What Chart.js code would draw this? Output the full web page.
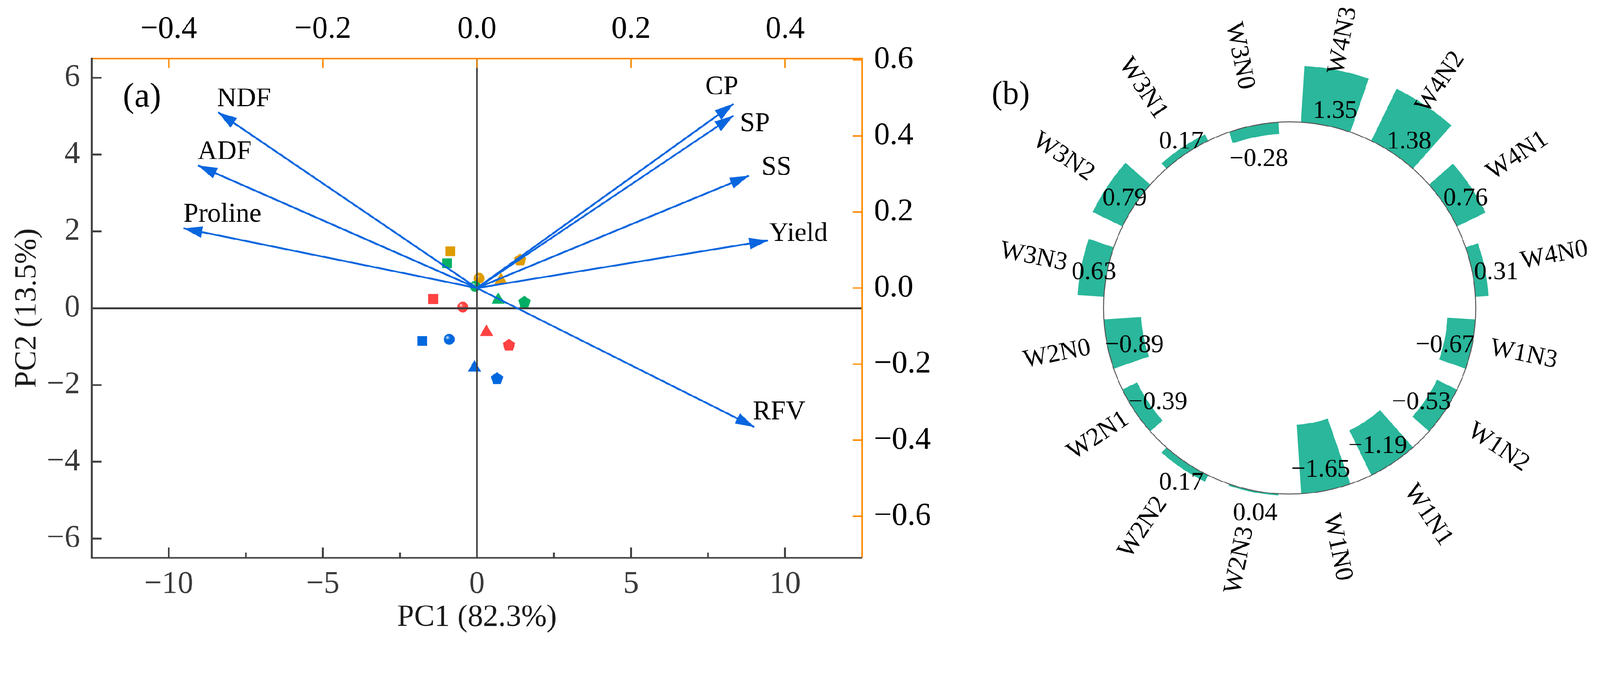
<!DOCTYPE html>
<html>
<head>
<meta charset="utf-8">
<script src="https://cdn.jsdelivr.net/npm/chart.js@4.4.0/dist/chart.umd.min.js"></script>
<style>
html,body{margin:0;padding:0;background:#ffffff;overflow:hidden;width:100vw;height:100vh;}
#stage{position:absolute;left:0;top:0;width:4393px;height:1749px;transform-origin:0 0;background:#fff;}
#wa{position:absolute;left:0;top:0;width:2600px;height:1749px;}
#wb{position:absolute;left:2691px;top:0;width:1700px;height:1749px;}
</style>
</head>
<body>
<div id="stage">
<div id="wa"><canvas id="ca"></canvas></div>
<div id="wb"><canvas id="cb"></canvas></div>
</div>
<script>
// fit the 4393x1749 design into the actual viewport
(function () {
  const sc = Math.min(window.innerWidth / 4393, window.innerHeight / 1749);
  document.getElementById('stage').style.transform = 'scale(' + sc + ')';
})();

// ================= DATA =================
// Panel (a) tick values
const pc1Ticks = [-10, -5, 0, 5, 10];
const pc2Ticks = [-6, -4, -2, 0, 2, 4, 6];
const loadXTicks = [-0.4, -0.2, 0, 0.2, 0.4];
const loadYTicks = [-0.6, -0.4, -0.2, 0, 0.2, 0.4, 0.6];

// Panel (a) sample scores (order within each group: N0 square, N1 sphere, N2 triangle, N3 pentagon)
const nLevels = ['N0', 'N1', 'N2', 'N3'];
const w1PC1 = [-1.78, -0.90, -0.08, 0.65];
const w1PC2 = [-0.85, -0.81, -1.55, -1.82];
const w2PC1 = [-1.42, -0.46, 0.31, 1.04];
const w2PC2 = [0.24, 0.03, -0.62, -0.95];
const w3PC1 = [-0.97, -0.06, 0.69, 1.54];
const w3PC2 = [1.17, 0.57, 0.22, 0.17];
const w4PC1 = [-0.86, 0.07, 0.78, 1.40];
const w4PC2 = [1.48, 0.78, 0.73, 1.27];

// Panel (a) variable loadings
const variables = ['NDF', 'ADF', 'Proline', 'CP', 'SP', 'SS', 'Yield', 'RFV'];
const loadPC1 = [-0.336, -0.362, -0.381, 0.333, 0.333, 0.353, 0.378, 0.360];
const loadPC2 = [0.462, 0.322, 0.157, 0.484, 0.453, 0.295, 0.125, -0.365];

// Panel (b) circular bar values
const ringCategories = ['W4N3', 'W4N2', 'W4N1', 'W4N0', 'W1N3', 'W1N2', 'W1N1', 'W1N0',
                        'W2N3', 'W2N2', 'W2N1', 'W2N0', 'W3N3', 'W3N2', 'W3N1', 'W3N0'];
const ringValues = [1.35, 1.38, 0.76, 0.31, -0.67, -0.53, -1.19, -1.65,
                    0.04, 0.17, -0.39, -0.89, 0.63, 0.79, 0.17, -0.28];

// ================= STYLE / LAYOUT =================
const FONT = "'Liberation Serif','Times New Roman',serif";
Chart.defaults.font.family = FONT;
const AXIS_GRAY = '#404040';
const AXIS_ORANGE = '#FF8A00';
const ARROW_BLUE = '#0A66DF';
const groupColors = { W1: '#0068DE', W2: '#FF4242', W3: '#00AF64', W4: '#DF9C00' };
// label offsets (px) from each arrow tip to the label centre
const loadLabelOffset = [[71, -36], [73, -37], [107, -37], [-32, -46], [59, 23], [76, -22], [83, -18], [68, -40]];
// panel (b) layout
const ringBaseRadius = 511;     // px radius of the zero circle
const ringPxPerUnit = 115;      // px per unit of value
const ringDrawRadius = 846;     // drawing area radius of the radial scale
const ringGapFrac = 0.31;       // angular gap fraction between bars
const ringBarColor = '#2AB79B';
const ringValueOffsetPos = 52, ringValueOffsetNeg = -76;
const ringValueShiftPos = [15, 12], ringValueShiftNeg = [0, 18];
const ringCatOffset = [238, 234, 241, 230, 144, 178, 173, 159, 195, 214, 121, 140, 206, 236, 214, 195];

function mix(hex, f) {
  const n = parseInt(hex.slice(1), 16);
  const r = (n >> 16) & 255, g = (n >> 8) & 255, b = n & 255;
  const m = c => Math.round(c + (255 - c) * f);
  return 'rgb(' + m(r) + ',' + m(g) + ',' + m(b) + ')';
}
function sphereStyle(color, r) {
  const c = document.createElement('canvas');
  const s = 2 * r + 2; c.width = s; c.height = s;
  const g = c.getContext('2d');
  const cx = s / 2, cy = s / 2;
  const grad = g.createRadialGradient(cx - r * 0.35, cy - r * 0.35, 0, cx - r * 0.2, cy - r * 0.2, r * 1.15);
  grad.addColorStop(0, '#ffffff');
  grad.addColorStop(0.12, mix(color, 0.55));
  grad.addColorStop(0.38, color);
  grad.addColorStop(1, color);
  g.fillStyle = grad;
  g.beginPath(); g.arc(cx, cy, r, 0, Math.PI * 2); g.fill();
  return c;
}
function pentagonStyle(color, R) {
  const w = Math.ceil(2 * R * Math.sin(2 * Math.PI / 5)) + 2;
  const h = Math.ceil(R * (1 + Math.cos(Math.PI / 5))) + 2;
  const c = document.createElement('canvas'); c.width = w; c.height = h;
  const g = c.getContext('2d');
  const cx = w / 2, cy = 1 + R;
  g.fillStyle = color; g.beginPath();
  for (let k = 0; k < 5; k++) {
    const a = -Math.PI / 2 + k * 2 * Math.PI / 5;
    g.lineTo(cx + R * Math.cos(a), cy + R * Math.sin(a));
  }
  g.closePath(); g.fill();
  return c;
}
const minusFmt = d => v => (v < 0 ? '\u2212' : '') + Math.abs(v).toFixed(d);

// ================= PANEL (a) =================
// drawing order: later in list is drawn first, so green sits over orange
const groups = [
  { name: 'W3', pc1: w3PC1, pc2: w3PC2 },
  { name: 'W4', pc1: w4PC1, pc2: w4PC2 },
  { name: 'W2', pc1: w2PC1, pc2: w2PC2 },
  { name: 'W1', pc1: w1PC1, pc2: w1PC2 }
];
const datasetsA = [];
variables.forEach((v, i) => {
  datasetsA.push({
    label: v, isArrow: true, showLine: true,
    data: [{ x: 0, y: 0 }, { x: loadPC1[i], y: loadPC2[i] }],
    xAxisID: 'x2', yAxisID: 'y2',
    borderColor: ARROW_BLUE, borderWidth: 5, pointRadius: 0, pointHoverRadius: 0,
    borderCapStyle: 'butt', order: 1
  });
});
groups.forEach(gr => {
  const col = groupColors[gr.name];
  datasetsA.push({
    label: gr.name,
    data: gr.pc1.map((x, i) => ({ x: x, y: gr.pc2[i] })),
    xAxisID: 'x', yAxisID: 'y',
    pointStyle: ['rect', sphereStyle(col, 15), 'triangle', pentagonStyle(col, 18)],
    pointRadius: [19, 15, 21, 18],
    pointHoverRadius: [19, 15, 21, 18],
    pointBackgroundColor: col, backgroundColor: col,
    pointBorderWidth: 0, borderWidth: 0, order: 2
  });
});

function setTicks(arr) { return s => { s.ticks = arr.map(v => ({ value: v })); }; }

const panelAPlugin = {
  id: 'panelA',
  beforeDatasetsDraw(chart) { chart.$zeroDone = false; },
  beforeDatasetDraw(chart, args) {
    const ds = chart.data.datasets[args.index];
    if (ds.isArrow && !chart.$zeroDone) {
      chart.$zeroDone = true;
      const { ctx, chartArea: a } = chart;
      const x0 = chart.scales.x.getPixelForValue(0);
      const y0 = chart.scales.y.getPixelForValue(0);
      ctx.save();
      ctx.strokeStyle = '#3c3c3c'; ctx.lineWidth = 5;
      ctx.beginPath();
      ctx.moveTo(x0, a.top); ctx.lineTo(x0, a.bottom);
      ctx.moveTo(a.left, y0); ctx.lineTo(a.right, y0);
      ctx.stroke();
      ctx.restore();
    }
  },
  afterDatasetsDraw(chart) {
    const ctx = chart.ctx;
    ctx.save();
    chart.data.datasets.forEach((ds, i) => {
      if (!ds.isArrow) return;
      const meta = chart.getDatasetMeta(i);
      const p0 = meta.data[0], p1 = meta.data[1];
      const dx = p1.x - p0.x, dy = p1.y - p0.y;
      const L = Math.hypot(dx, dy);
      const ux = dx / L, uy = dy / L;
      const hl = 52, hw = 16;
      const bx = p1.x - ux * hl, by = p1.y - uy * hl;
      ctx.fillStyle = ARROW_BLUE;
      ctx.beginPath();
      ctx.moveTo(p1.x, p1.y);
      ctx.lineTo(bx - uy * hw, by + ux * hw);
      ctx.lineTo(bx + uy * hw, by - ux * hw);
      ctx.closePath(); ctx.fill();
      const idx = variables.indexOf(ds.label);
      const off = loadLabelOffset[idx];
      ctx.fillStyle = '#000';
      ctx.font = '74px ' + FONT;
      ctx.textAlign = 'center'; ctx.textBaseline = 'middle';
      ctx.fillText(ds.label, p1.x + off[0], p1.y + off[1]);
    });
    ctx.restore();
  },
  afterDraw(chart) {
    const { ctx, chartArea: a, scales } = chart;
    ctx.save();
    ctx.lineCap = 'butt';
    // inward ticks
    ctx.strokeStyle = AXIS_GRAY; ctx.lineWidth = 5;
    ctx.beginPath();
    pc1Ticks.forEach(v => { const x = scales.x.getPixelForValue(v); ctx.moveTo(x, a.bottom); ctx.lineTo(x, a.bottom - 28); });
    for (let i = 0; i < pc1Ticks.length - 1; i++) {
      const x = scales.x.getPixelForValue((pc1Ticks[i] + pc1Ticks[i + 1]) / 2);
      ctx.moveTo(x, a.bottom); ctx.lineTo(x, a.bottom - 14);
    }
    pc2Ticks.forEach(v => { const y = scales.y.getPixelForValue(v); ctx.moveTo(a.left, y); ctx.lineTo(a.left + 27, y); });
    ctx.stroke();
    ctx.strokeStyle = AXIS_ORANGE; ctx.lineWidth = 4;
    ctx.beginPath();
    loadXTicks.forEach(v => { const x = scales.x2.getPixelForValue(v); ctx.moveTo(x, a.top); ctx.lineTo(x, a.top + 26); });
    loadYTicks.forEach(v => { const y = scales.y2.getPixelForValue(v); ctx.moveTo(a.right, y); ctx.lineTo(a.right - 26, y); });
    ctx.stroke();
    // frame
    ctx.strokeStyle = AXIS_ORANGE; ctx.lineWidth = 4;
    ctx.beginPath();
    ctx.moveTo(a.left, a.top); ctx.lineTo(a.right, a.top);
    ctx.moveTo(a.right, a.top - 2); ctx.lineTo(a.right, a.bottom);
    ctx.stroke();
    ctx.strokeStyle = AXIS_GRAY; ctx.lineWidth = 5;
    ctx.beginPath();
    ctx.moveTo(a.left, a.top - 2); ctx.lineTo(a.left, a.bottom + 2.5);
    ctx.moveTo(a.left - 2.5, a.bottom); ctx.lineTo(a.right, a.bottom);
    ctx.stroke();
    // panel label
    ctx.fillStyle = '#000'; ctx.font = '95px ' + FONT;
    ctx.textAlign = 'center'; ctx.textBaseline = 'middle';
    ctx.fillText('(a)', a.left + 138, a.top + 107);
    ctx.restore();
  }
};

new Chart(document.getElementById('ca'), {
  type: 'scatter',
  data: { datasets: datasetsA },
  options: {
    responsive: true, maintainAspectRatio: false, animation: false,
    layout: { padding: 0 },
    plugins: { legend: { display: false }, tooltip: { enabled: false } },
    events: [],
    scales: {
      x: {
        type: 'linear', position: 'bottom', min: -12.5, max: 12.5,
        afterBuildTicks: setTicks(pc1Ticks), afterFit: s => { s.height = 217; },
        grid: { display: false, drawTicks: false }, border: { display: false },
        ticks: { font: { size: 86 }, color: '#3a3a3a', padding: 22, autoSkip: false, maxRotation: 0, callback: minusFmt(0) },
        title: { display: true, text: 'PC1 (82.3%)', font: { size: 84 }, color: '#1a1a1a', padding: { top: 0, bottom: 2 } }
      },
      y: {
        type: 'linear', position: 'left', min: -6.5, max: 6.5,
        afterBuildTicks: setTicks(pc2Ticks), afterFit: s => { s.width = 252; },
        grid: { display: false, drawTicks: false }, border: { display: false },
        ticks: { font: { size: 86 }, color: '#3a3a3a', padding: 32, autoSkip: false, callback: minusFmt(0) },
        title: { display: true, text: 'PC2 (13.5%)', font: { size: 84 }, color: '#1a1a1a', padding: { top: 26, bottom: 0 } }
      },
      x2: {
        type: 'linear', position: 'top', min: -0.5, max: 0.5,
        afterBuildTicks: setTicks(loadXTicks), afterFit: s => { s.height = 161; },
        grid: { display: false, drawTicks: false }, border: { display: false },
        ticks: { font: { size: 86 }, color: '#000', padding: 28, autoSkip: false, maxRotation: 0, callback: minusFmt(1) }
      },
      y2: {
        type: 'linear', position: 'right', min: -0.709, max: 0.603,
        afterBuildTicks: setTicks(loadYTicks), afterFit: s => { s.width = 233; },
        grid: { display: false, drawTicks: false }, border: { display: false },
        ticks: { font: { size: 86 }, color: '#000', padding: 33, autoSkip: false, callback: minusFmt(1) }
      }
    }
  },
  plugins: [panelAPlugin]
});

// ================= PANEL (b) =================
const ringPlugin = {
  id: 'ring',
  afterDatasetUpdate(chart, args) {
    const s = chart.scales.r;
    const base = s.getDistanceFromCenterForValue(0);
    args.meta.data.forEach((el, i) => {
      const rv = s.getDistanceFromCenterForValue(ringValues[i]);
      el.innerRadius = Math.min(base, rv);
      el.outerRadius = Math.max(base, rv);
      const gap = (el.endAngle - el.startAngle) * ringGapFrac / 2;
      el.startAngle += gap; el.endAngle -= gap;
    });
  },
  afterDatasetsDraw(chart) {
    const s = chart.scales.r, ctx = chart.ctx;
    const cx = s.xCenter, cy = s.yCenter;
    const base = s.getDistanceFromCenterForValue(0);
    ctx.save();
    ctx.strokeStyle = '#555555'; ctx.lineWidth = 2.5;
    ctx.beginPath(); ctx.arc(cx, cy, base, 0, Math.PI * 2); ctx.stroke();
    ctx.fillStyle = '#000';
    ctx.textAlign = 'center'; ctx.textBaseline = 'middle';
    chart.getDatasetMeta(0).data.forEach((el, i) => {
      const mid = (el.startAngle + el.endAngle) / 2;
      const v = ringValues[i];
      const rr = base + (v >= 0 ? ringValueOffsetPos : ringValueOffsetNeg);
      const sh = v >= 0 ? ringValueShiftPos : ringValueShiftNeg;
      ctx.font = '70px ' + FONT;
      ctx.fillText(minusFmt(2)(v), cx + rr * Math.cos(mid) + sh[0], cy + rr * Math.sin(mid) + sh[1]);
      let deg = (mid * 180 / Math.PI + 90) % 360; if (deg < 0) deg += 360;
      const rot = deg < 180 ? deg - 90 : deg - 270;
      const rl = base + ringCatOffset[i];
      ctx.save();
      ctx.translate(cx + rl * Math.cos(mid), cy + rl * Math.sin(mid));
      ctx.rotate(rot * Math.PI / 180);
      ctx.font = '70px ' + FONT;
      ctx.fillText(ringCategories[i], 0, 0);
      ctx.restore();
    });
    ctx.font = '90px ' + FONT;
    ctx.fillText('(b)', 84, 261);
    ctx.restore();
  }
};

new Chart(document.getElementById('cb'), {
  type: 'polarArea',
  data: {
    labels: ringCategories,
    datasets: [{ data: ringValues, backgroundColor: ringBarColor, borderWidth: 0, hoverBackgroundColor: ringBarColor }]
  },
  options: {
    responsive: true, maintainAspectRatio: false, animation: false,
    layout: { padding: { top: 0, bottom: 57, left: 0, right: 0 } },
    plugins: { legend: { display: false }, tooltip: { enabled: false } },
    events: [],
    scales: {
      r: {
        min: -ringBaseRadius / ringPxPerUnit,
        max: (ringDrawRadius - ringBaseRadius) / ringPxPerUnit,
        ticks: { display: false },
        grid: { display: false },
        angleLines: { display: false },
        pointLabels: { display: false }
      }
    }
  },
  plugins: [ringPlugin]
});
</script>
</body>
</html>
